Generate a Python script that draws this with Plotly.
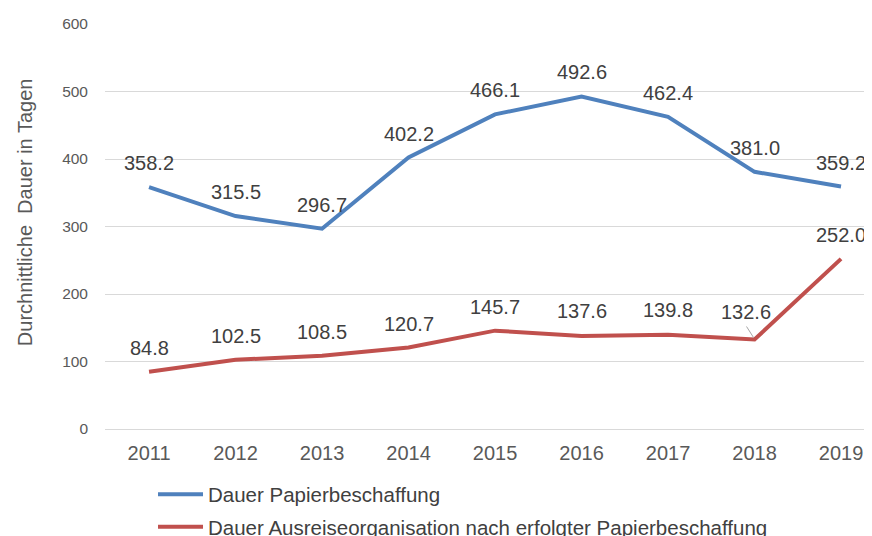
import plotly.graph_objects as go

years = ["2011", "2012", "2013", "2014", "2015", "2016", "2017", "2018", "2019"]
papier = [358.2, 315.5, 296.7, 402.2, 466.1, 492.6, 462.4, 381.0, 359.2]
ausreise = [84.8, 102.5, 108.5, 120.7, 145.7, 137.6, 139.8, 132.6, 252.0]
name_papier = "Dauer Papierbeschaffung"
name_ausreise = "Dauer Ausreiseorganisation nach erfolgter Papierbeschaffung"
y_title = "Durchnittliche\u00a0 Dauer in Tagen"
y_ticks = [0, 100, 200, 300, 400, 500, 600]

BLUE = "#4F81BD"
RED = "#C0504D"
TXT = "#404040"
TICK = "#595959"
FONT = "Liberation Sans, Arial, sans-serif"

xs = list(range(len(years)))

fig = go.Figure()
fig.add_trace(go.Scatter(x=xs, y=papier, mode="lines", name=name_papier,
                         line=dict(color=BLUE, width=4), legendgroup="a"))
fig.add_trace(go.Scatter(x=xs, y=ausreise, mode="lines", name=name_ausreise,
                         line=dict(color=RED, width=4), legendgroup="b"))

# label pixel shifts relative to each point (style only)
shift_papier = [(0, 24)] * 9
shift_ausreise = [(0, 24), (0, 24), (0, 24), (0, 24), (0, 24), (0, 25), (0, 25), (-9, 27.5), (0, 24)]

ann = []
for i in xs:
    dx, dy = shift_papier[i]
    ann.append(dict(x=i, y=papier[i], xref="x", yref="y", text=f"{papier[i]:.1f}",
                    showarrow=False, xshift=dx, yshift=dy, xanchor="center", yanchor="middle",
                    font=dict(size=20, color=TXT, family=FONT)))
    dx, dy = shift_ausreise[i]
    ann.append(dict(x=i, y=ausreise[i], xref="x", yref="y", text=f"{ausreise[i]:.1f}",
                    showarrow=False, xshift=dx, yshift=dy, xanchor="center", yanchor="middle",
                    font=dict(size=20, color=TXT, family=FONT)))

# y-axis title as rotated text
ann.append(dict(x=-0.104, y=0.536, xref="paper", yref="paper", text=y_title, textangle=-90,
                showarrow=False, xanchor="center", yanchor="middle",
                font=dict(size=20, color=TICK, family=FONT)))

# leader line for the 2018 label of the second series
i18 = years.index("2018")
shapes = [dict(type="line", xref="x", yref="y", xsizemode="pixel", ysizemode="pixel",
               xanchor=i18, yanchor=ausreise[i18], x0=-8, y0=13, x1=-1, y1=2,
               line=dict(color="#A6A6A6", width=1))]

fig.update_layout(
    width=864, height=528,
    margin=dict(l=97, r=0, t=16, b=107, autoexpand=False),
    paper_bgcolor="white", plot_bgcolor="white",
    font=dict(family=FONT, color=TXT),
    annotations=ann,
    shapes=shapes,
    showlegend=True,
    legend=dict(orientation="v", x=0.0626, xanchor="left", y=-0.112, yanchor="top",
                font=dict(size=20.5, color=TXT, family=FONT), tracegroupgap=3,
                itemwidth=45, bgcolor="rgba(0,0,0,0)"),
    xaxis=dict(range=[-0.509, 8.358], tickmode="array", tickvals=xs, ticktext=years,
               showgrid=False, showline=False, zeroline=False, ticks="",
               ticklabelstandoff=10,
               tickfont=dict(size=20, color=TICK, family=FONT)),
    yaxis=dict(range=[0, 600], tickmode="array", tickvals=y_ticks, showgrid=True,
               gridcolor="#D9D9D9", gridwidth=1,
               zeroline=True, zerolinecolor="#D9D9D9", zerolinewidth=1,
               tickfont=dict(size=15.5, color=TICK, family=FONT), ticklabelstandoff=16),
)

fig.write_html("out.html")
